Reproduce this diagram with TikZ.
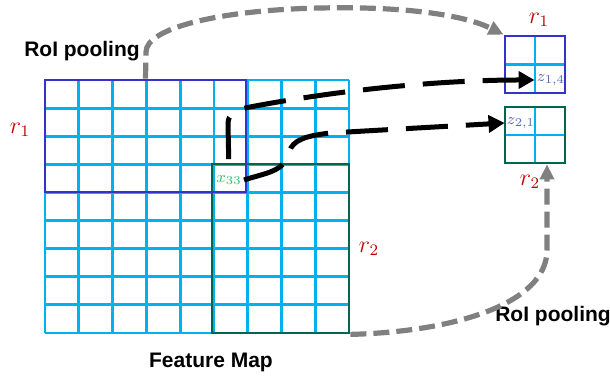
\documentclass[tikz,border=0pt]{standalone}
\usepackage{amsmath,amssymb}
\usepackage{fontspec}
\setsansfont{Liberation Sans}
\usetikzlibrary{arrows.meta,positioning,calc,fit}
\usepackage{xcolor}
\definecolor{gridcyan}{HTML}{00B0F0}
\definecolor{roiblue}{HTML}{3333CC}
\definecolor{roigreen}{HTML}{00664F}
\definecolor{lblred}{HTML}{C00000}
\definecolor{xgreen}{HTML}{33C06A}
\definecolor{zblue}{HTML}{4F6BB3}
\definecolor{poolgray}{HTML}{808080}

\begin{document}
\begin{tikzpicture}[x=0.5pt, y=-0.5pt,
    cellgrid/.style={gridcyan, line width=1.4pt},
    roibox/.style={draw, line width=1.4pt, inner sep=0pt},
    poolarrow/.style={poolgray, line width=2.6pt, dash pattern=on 8pt off 3.5pt, -{Triangle[length=7.5pt,width=7pt]}},
    maparrow/.style={black, line width=2.5pt, dash pattern=on 21pt off 9pt, -{Triangle[length=8pt,width=8.5pt]}},
    boldlbl/.style={font=\sffamily\bfseries\fontsize{10.5}{12}\selectfont},
    rlbl/.style={text=lblred, font=\fontsize{11.5}{13}\selectfont},
    sublbl/.style={inner sep=1pt, font=\fontsize{8}{10}\selectfont}]
    \useasboundingbox (0,0) rectangle (610,378);

    % Feature map grid
    \foreach \i in {0,...,9} {
        \pgfmathsetmacro{\gx}{45+\i*33.78}
        \pgfmathsetmacro{\gy}{80+\i*28.11}
        \draw[cellgrid] (\gx,80) -- (\gx,333);
        \draw[cellgrid] (45,\gy) -- (349,\gy);
    }

    % Regions on the feature map
    \coordinate (r1a) at (45,80);
    \coordinate (r1b) at (246,192);
    \coordinate (r2a) at (212,164);
    \coordinate (r2b) at (349,333);
    \node[roibox, draw=roigreen, fit=(r2a)(r2b)] (r2) {};
    \node[roibox, draw=roiblue, fit=(r1a)(r1b)] (r1) {};

    % Pooled outputs
    \foreach \t/\b in {36/93, 107/163} {
        \pgfmathsetmacro{\m}{(\t+\b)/2}
        \draw[cellgrid] (535,\t) -- (535,\b);
        \draw[cellgrid] (505,\m) -- (565,\m);
    }
    \coordinate (p1a) at (505,36);
    \coordinate (p1b) at (565,93);
    \coordinate (p2a) at (505,107);
    \coordinate (p2b) at (565,163);
    \node[roibox, draw=roiblue, fit=(p1a)(p1b)] (p1) {};
    \node[roibox, draw=roigreen, fit=(p2a)(p2b)] (p2) {};

    % Labels
    \node[rlbl] (r1lbl) at (20,130) {$r_1$};
    \node[rlbl] (r2lbl) at (369,249) {$r_2$};
    \node[rlbl] (p1lbl) at (539,20) {$r_1$};
    \node[rlbl] (p2lbl) at (530,182) {$r_2$};
    \node[sublbl, text=xgreen] (x33) at (229,180) {$x_{33}$};
    \node[sublbl, text=zblue] (z14) at (551,80) {$z_{1,4}$};
    \node[sublbl, text=zblue] (z21) at (521,123) {$z_{2,1}$};
    \node[boldlbl] (pool1) at (82,51) {RoI pooling};
    \node[boldlbl] (pool2) at (553,316) {RoI pooling};
    \node[boldlbl] (fmlbl) at (211,362) {Feature Map};

    % RoI pooling arrows
    \draw[poolarrow] (r1.north) -- (146,52) .. controls (146,28) and (220,10) .. (320,8)
        .. controls (420,6) and (470,18) .. (p1.north west);
    \draw[poolarrow] (r2.south east) .. controls (450,332) and (547,305) .. (547,250)
        -- ([xshift=6pt]p2.south);

    % Mapping arrows
    \draw[maparrow, shorten <=7pt] (x33.north) -- (228,124) .. controls (228,114) and (235,110) .. (250,107)
        .. controls (350,88) and (450,80) .. (z14.west);
    \draw[maparrow] (x33.east) .. controls (265,173) and (285,172) .. (289,152)
        .. controls (293,140) and (305,136) .. (330,133) -- (z21.west);
\end{tikzpicture}
\end{document}
